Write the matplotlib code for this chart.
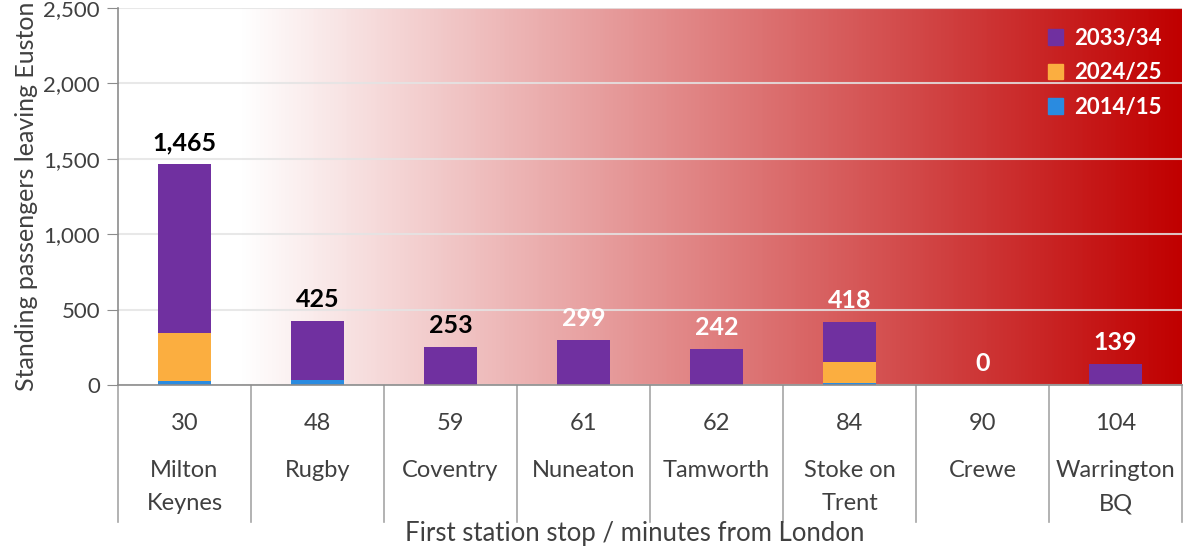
import numpy as np
import matplotlib
matplotlib.use("Agg")
from matplotlib import pyplot as plt
from matplotlib.colors import LinearSegmentedColormap
from matplotlib.patches import Patch
import matplotlib.transforms as mtransforms

plt.rcParams["font.family"] = ["Lato", "DejaVu Sans"]

stations = ["Milton\nKeynes", "Rugby", "Coventry", "Nuneaton", "Tamworth",
            "Stoke on\nTrent", "Crewe", "Warrington\nBQ"]
minutes = ["30", "48", "59", "61", "62", "84", "90", "104"]

# standing passengers per year band (stacked)
stand_2014 = [25, 35, 0, 0, 0, 15, 0, 0]
stand_2024 = [318, 0, 0, 0, 0, 139, 0, 0]
stand_2033 = [1122, 390, 253, 299, 242, 264, 0, 139]
totals = [1465, 425, 253, 299, 242, 418, 0, 139]

C_PURPLE = "#7030A0"
C_ORANGE = "#FBAE40"
C_BLUE = "#2A8BE0"
label_colors = ["black", "black", "black", "white", "white", "white", "white", "white"]

fig = plt.figure(figsize=(11.84, 5.5), dpi=100)
ax = fig.add_axes([118 / 1184, 165 / 550, 1064 / 1184, 377 / 550])

# background fade: white on the left into deep red on the right
grad_cmap = LinearSegmentedColormap.from_list(
    "fade", [(0, "#FFFFFF"), (122 / 1064, "#FFFFFF"), (1, "#C00000")])
grad = np.linspace(0, 1, 512).reshape(1, -1)
ax.imshow(grad, cmap=grad_cmap, aspect="auto", extent=[0, 1, 0, 1],
          transform=ax.transAxes, zorder=0)

x = np.arange(len(stations))
w = 0.4
b1 = np.array(stand_2014)
b2 = b1 + np.array(stand_2024)
ax.bar(x, stand_2014, w, color=C_BLUE, zorder=3)
ax.bar(x, stand_2024, w, bottom=b1, color=C_ORANGE, zorder=3)
ax.bar(x, stand_2033, w, bottom=b2, color=C_PURPLE, zorder=3)

for xi, tot, col in zip(x, totals, label_colors):
    ax.annotate(f"{tot:,}", (xi, tot), xytext=(0, 7), textcoords="offset points",
                ha="center", va="bottom", fontsize=18, fontweight="bold", color=col)

ax.set_xlim(-0.5, len(stations) - 0.5)
ax.set_ylim(0, 2500)
ax.set_yticks(np.arange(0, 2501, 500))
ax.set_yticklabels([f"{v:,}" for v in range(0, 2501, 500)])
ax.yaxis.grid(True, color="#E4E4E4", linewidth=1.5, alpha=0.85, zorder=1)
ax.set_axisbelow(False)
ax.tick_params(axis="y", direction="out", length=8, color="#8C8C8C",
               labelsize=16, labelcolor="#404040", pad=5)
ax.tick_params(axis="x", length=0, labelbottom=False)
for s in ["top", "right"]:
    ax.spines[s].set_visible(False)
for s in ["left", "bottom"]:
    ax.spines[s].set_color("#8C8C8C")
    ax.spines[s].set_linewidth(1.2)
    ax.spines[s].set_zorder(4)

# two-level category axis
trans = mtransforms.blended_transform_factory(ax.transData, ax.transAxes)
for xb in np.arange(-0.5, len(stations), 1.0):
    ax.plot([xb, xb], [0, -0.363], transform=trans, color="#A6A6A6",
            linewidth=1.2, clip_on=False)
for xi, mins, name in zip(x, minutes, stations):
    ax.text(xi, -0.102, mins, transform=trans, ha="center", va="center",
            fontsize=17, color="#404040")
    ax.text(xi, -0.198, name, transform=trans, ha="center", va="top",
            fontsize=17, color="#404040", linespacing=1.75)

ax.set_ylabel("Standing passengers leaving Euston", fontsize=18,
              color="#404040", labelpad=4)
fig.text(635 / 1184, 1 - 533 / 550, "First station stop / minutes from London",
         ha="center", va="center", fontsize=18.5, color="#404040")

handles = [Patch(color=C_PURPLE), Patch(color=C_ORANGE), Patch(color=C_BLUE)]
leg = ax.legend(handles, ["2033/34", "2024/25", "2014/15"], loc="upper right",
                frameon=False, fontsize=16, handlelength=0.7, handleheight=0.7,
                handletextpad=0.5, labelspacing=0.6, borderaxespad=0.5)
for t in leg.get_texts():
    t.set_color("white")
    t.set_fontweight("bold")

fig.savefig("out.png", dpi=100)
